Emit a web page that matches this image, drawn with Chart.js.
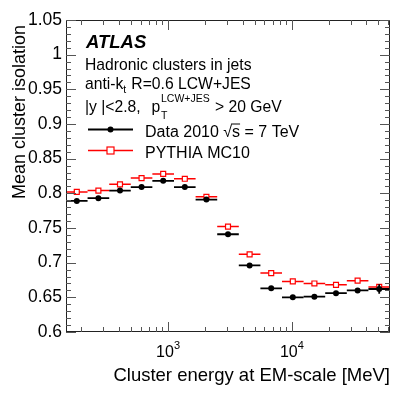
<!DOCTYPE html>
<html><head><meta charset="utf-8">
<script src="https://cdn.jsdelivr.net/npm/chart.js@4"></script>
<style>html,body{margin:0;padding:0;background:#fff}canvas{display:block}</style>
</head><body>
<canvas id="c" width="411" height="395"></canvas>
<script>
// ---- data ----
const binEdges   = [150, 224, 335, 500, 747, 1117, 1669, 2494, 3726, 5568, 8318, 12430, 18570, 27750, 41460, 61940];
const dataValues = [0.789, 0.793, 0.804, 0.809, 0.818, 0.809, 0.791, 0.741, 0.696, 0.663, 0.650, 0.651, 0.656, 0.660, 0.662];
const dataErrors = [0.001, 0.001, 0.001, 0.001, 0.001, 0.001, 0.001, 0.001, 0.001, 0.001, 0.001, 0.001, 0.001, 0.002, 0.007];
const mcValues   = [0.802, 0.804, 0.813, 0.822, 0.828, 0.821, 0.795, 0.752, 0.712, 0.685, 0.673, 0.670, 0.668, 0.674, 0.665];
const mcErrors   = [0.001, 0.001, 0.001, 0.001, 0.001, 0.001, 0.001, 0.001, 0.001, 0.001, 0.001, 0.001, 0.001, 0.001, 0.003];
const xLabelValues = [1000, 10000];
const xLabelExps   = ['3', '4'];
const seriesNames  = ['Data 2010 \u221As = 7 TeV', 'PYTHIA MC10'];

const FONT = '"Liberation Sans", Arial, Helvetica, sans-serif';
const centers = binEdges.slice(0, -1).map((lo, i) => Math.sqrt(lo * binEdges[i + 1]));
const toPts = vals => vals.map((v, i) => ({x: centers[i], y: v}));
const errs = [dataErrors, mcErrors];

const errorBars = {
  id: 'errorBars',
  beforeDatasetDraw(chart, args) {
    const {ctx, scales: {x, y}, chartArea: a} = chart;
    const ds = chart.data.datasets[args.index];
    const e = errs[args.index];
    ctx.save();
    ctx.beginPath(); ctx.rect(a.left, a.top, a.right - a.left, a.bottom - a.top); ctx.clip();
    ctx.strokeStyle = ds.borderColor; ctx.lineWidth = ds.barWidth;
    ds.data.forEach((p, i) => {
      const py = y.getPixelForValue(p.y);
      ctx.beginPath();
      ctx.moveTo(x.getPixelForValue(binEdges[i]), py);
      ctx.lineTo(x.getPixelForValue(binEdges[i + 1]), py);
      const px = x.getPixelForValue(p.x);
      ctx.moveTo(px, y.getPixelForValue(p.y - e[i]));
      ctx.lineTo(px, y.getPixelForValue(p.y + e[i]));
      ctx.stroke();
    });
    ctx.restore();
  }
};

const decor = {
  id: 'decor',
  afterDraw(chart) {
    const {ctx, scales: {x, y}, chartArea: a} = chart;
    ctx.save();
    // frame
    ctx.strokeStyle = '#222'; ctx.lineWidth = 1;
    ctx.strokeRect(a.left + 0.5, a.top + 0.5, a.right - a.left - 1, a.bottom - a.top - 1);
    ctx.strokeStyle = '#555';
    ctx.beginPath();
    // y ticks
    for (let k = 60; k <= 105; k++) {
      const py = Math.round(y.getPixelForValue(k / 100)) + 0.5;
      const L = (k % 5 === 0) ? 10 : 5;
      ctx.moveTo(a.left, py); ctx.lineTo(a.left + L, py);
      ctx.moveTo(a.right, py); ctx.lineTo(a.right - L, py);
    }
    // x ticks
    [100, 1000, 10000].forEach(d => {
      for (let k = 1; k <= 9; k++) {
        const v = k * d;
        if (v < x.min || v > x.max) continue;
        const px = Math.round(x.getPixelForValue(v)) + 0.5;
        const L = (k === 1) ? 10 : 5;
        ctx.moveTo(px, a.bottom); ctx.lineTo(px, a.bottom - L);
        ctx.moveTo(px, a.top); ctx.lineTo(px, a.top + L);
      }
    });
    ctx.stroke();

    ctx.fillStyle = '#000';
    ctx.textBaseline = 'alphabetic';
    // x tick labels 10^n
    xLabelValues.forEach((v, i) => {
      const px = x.getPixelForValue(v);
      ctx.font = '16px ' + FONT;
      const w1 = ctx.measureText('10').width;
      ctx.font = '11px ' + FONT;
      const w2 = ctx.measureText(xLabelExps[i]).width;
      const x0 = px - (w1 + w2) / 2;
      ctx.font = '16px ' + FONT; ctx.textAlign = 'left';
      ctx.fillText('10', x0, a.bottom + 25);
      ctx.font = '11px ' + FONT;
      ctx.fillText(xLabelExps[i], x0 + w1, a.bottom + 17);
    });
    // axis titles
    ctx.font = '18.5px ' + FONT;
    ctx.textAlign = 'right';
    ctx.fillText('Cluster energy at EM-scale [MeV]', a.right, a.bottom + 49);
    ctx.font = '18px ' + FONT;
    ctx.save();
    ctx.translate(25, 25); ctx.rotate(-Math.PI / 2);
    ctx.fillText('Mean cluster isolation', 0, 0);
    ctx.restore();

    // annotations
    ctx.textAlign = 'left';
    ctx.font = 'italic bold 18.5px ' + FONT;
    ctx.fillText('ATLAS', 86, 47.5);
    ctx.font = '15.7px ' + FONT;
    ctx.fillText('Hadronic clusters in jets', 85, 69.5);
    ctx.fillText('anti-k', 85, 88.5);
    let w = ctx.measureText('anti-k').width;
    ctx.font = '10.5px ' + FONT;
    ctx.fillText('t', 85 + w, 92.5);
    ctx.font = '15.7px ' + FONT;
    ctx.fillText('R=0.6 LCW+JES', 85 + w + 8, 88.5);
    ctx.fillText('|y |<2.8,', 85, 111.5);
    ctx.fillText('p', 151.5, 111.5);
    ctx.font = '10.5px ' + FONT;
    ctx.fillText('T', 161, 119);
    ctx.fillText('LCW+JES', 161, 101.5);
    ctx.font = '15.7px ' + FONT;
    ctx.fillText('> 20 GeV', 215, 111.5);

    // legend
    const rows = [129.5, 150.5];
    chart.data.datasets.forEach((ds, i) => {
      const ly = rows[i];
      ctx.strokeStyle = ds.borderColor; ctx.lineWidth = ds.barWidth;
      ctx.beginPath(); ctx.moveTo(88, ly); ctx.lineTo(133, ly); ctx.stroke();
      const mx = 110.5;
      if (ds.pointStyle === 'circle') {
        ctx.fillStyle = ds.pointBackgroundColor;
        ctx.beginPath(); ctx.arc(mx, ly, ds.pointRadius, 0, 2 * Math.PI); ctx.fill();
      } else {
        const r = ds.pointRadius;
        ctx.fillStyle = ds.pointBackgroundColor; ctx.strokeStyle = ds.pointBorderColor;
        ctx.lineWidth = ds.pointBorderWidth;
        ctx.fillRect(mx - r, ly - r, 2 * r, 2 * r);
        ctx.strokeRect(mx - r, ly - r, 2 * r, 2 * r);
      }
      ctx.fillStyle = '#000';
      ctx.font = '16px ' + FONT;
      ctx.fillText(seriesNames[i], 145, ly + 7);
      if (i === 0) {
        const pre = ctx.measureText('Data 2010 \u221A').width;
        const sw = ctx.measureText('s').width;
        ctx.strokeStyle = '#000'; ctx.lineWidth = 1;
        ctx.beginPath(); ctx.moveTo(145 + pre - 1, ly - 5.5); ctx.lineTo(145 + pre + sw, ly - 5.5); ctx.stroke();
      }
    });
    ctx.restore();
  }
};

new Chart(document.getElementById('c'), {
  type: 'scatter',
  data: {
    datasets: [
      {label: seriesNames[0], data: toPts(dataValues), showLine: false,
       borderColor: '#000', barWidth: 1.8, pointStyle: 'circle', pointRadius: 3,
       pointBackgroundColor: '#000', pointBorderColor: '#000', pointBorderWidth: 0},
      {label: seriesNames[1], data: toPts(mcValues), showLine: false,
       borderColor: '#ff0000', barWidth: 1.5, pointStyle: 'rect', pointRadius: 3.5,
       pointBackgroundColor: '#fff', pointBorderColor: '#ff0000', pointBorderWidth: 1.2}
    ]
  },
  options: {
    responsive: false, animation: false, devicePixelRatio: 1,
    layout: {padding: {top: 20, right: 21, left: 0, bottom: 0}},
    plugins: {legend: {display: false}, tooltip: {enabled: false}},
    scales: {
      x: {type: 'logarithmic', min: binEdges[0], max: binEdges[binEdges.length - 1],
          grid: {display: false, drawTicks: false}, border: {display: false},
          ticks: {display: false},
          afterFit: s => { s.height = 63; }},
      y: {min: 0.6, max: 1.05,
          grid: {display: false, drawTicks: false}, border: {display: false},
          ticks: {stepSize: 0.05, padding: 4, color: '#000', font: {family: FONT, size: 17.5},
                  callback: v => String(+(+v).toFixed(2))},
          afterFit: s => { s.width = 66; }}
    }
  },
  plugins: [errorBars, decor]
});
</script>
</body></html>
